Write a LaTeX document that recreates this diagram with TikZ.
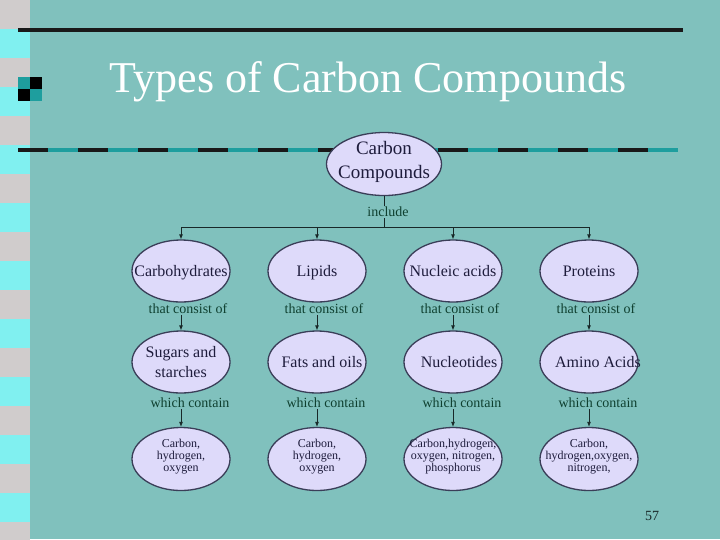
\documentclass[tikz,border=0pt]{standalone}
\usepackage{fontspec}
\setmainfont{Liberation Serif}
\usetikzlibrary{arrows.meta,shapes.geometric}

\definecolor{slidebg}{RGB}{128,193,189}
\definecolor{stripgray}{RGB}{208,204,204}
\definecolor{stripcyan}{RGB}{128,240,240}
\definecolor{darkteal}{RGB}{30,158,158}
\definecolor{ovalfill}{RGB}{222,218,250}
\definecolor{ovalline}{RGB}{58,62,88}
\definecolor{ovalink}{RGB}{30,28,60}
\definecolor{linkink}{RGB}{15,64,48}
\definecolor{wireink}{RGB}{24,40,40}

\tikzset{
  oval/.style={ellipse, draw=ovalline, line width=1.3pt, fill=ovalfill,
    inner sep=0pt, minimum width=98pt, minimum height=62pt},
  ovaltext/.style={text=ovalink, align=center, inner sep=0pt,
    font=\fontsize{16}{20}\selectfont},
  oneline/.style={ovaltext, text height=11.5pt, text depth=4.1pt, yshift=-2pt},
  smalltext/.style={ovaltext, font=\fontsize{12}{12}\selectfont},
  linklabel/.style={text=linkink, inner sep=1pt, font=\fontsize{14}{16}\selectfont},
  wire/.style={draw=wireink, line width=0.8pt},
  link/.style={wire, -{Latex[length=5pt,width=4pt]}},
}

\begin{document}
\begin{tikzpicture}[x=1pt,y=-1pt]
  \newcommand\X{136}
  \newcommand\Xo{181}
  % slide background and side strip
  \fill[slidebg] (0,0) rectangle (720,539);
  \useasboundingbox (0,0) rectangle (720,539);
  \begin{scope}
    \clip (0,0) rectangle (30,539);
    \foreach \k in {0,...,9} {
      \fill[stripgray] (0,\k*58) rectangle (30,\k*58+29);
      \fill[stripcyan] (0,\k*58+29) rectangle (30,\k*58+58);
    }
  \end{scope}
  % rules and checker
  \draw[line width=4pt, black!90] (18,30) -- (683,30);
  \fill[darkteal] (18,77) rectangle (30,89);
  \fill[black] (30,77) rectangle (42,89);
  \fill[black] (18,89) rectangle (30,101);
  \fill[darkteal] (30,89) rectangle (42,101);
  \foreach \k in {0,...,10} {
    \fill[black!90] (18+\k*60,147.5) rectangle (48+\k*60,151.5);
    \fill[darkteal] (48+\k*60,147.5) rectangle (78+\k*60,151.5);
  }
  \node[anchor=base, text=white, inner sep=0pt, font=\fontsize{44}{50}\selectfont] (title) at (368,92) {Types of Carbon Compounds};

  % root
  \node[oval, minimum width=115pt, minimum height=63pt,
    label={[ovaltext, yshift=2pt, font=\fontsize{19}{24}\selectfont]center:Carbon\\Compounds}] (root) at (384,164) {};
  \node[linklabel] (inc) at (388,212) {include};
  \coordinate (hub) at (384,227);

  % first row
  \node[oval, label={[oneline]center:Carbohydrates}] (carb) at (\Xo+0*\X,271) {};
  \node[oval, label={[oneline]center:Lipids}] (lip) at (\Xo+1*\X,271) {};
  \node[oval, label={[oneline]center:Nucleic acids}] (nuc) at (\Xo+2*\X,271) {};
  \node[oval, label={[oneline]center:Proteins}] (prot) at (\Xo+3*\X,271) {};

  \node[linklabel] (cons1) at (\Xo+0*\X+7,309) {that consist of};
  \node[linklabel] (cons2) at (\Xo+1*\X+7,309) {that consist of};
  \node[linklabel] (cons3) at (\Xo+2*\X+7,309) {that consist of};
  \node[linklabel] (cons4) at (\Xo+3*\X+7,309) {that consist of};

  % second row
  \node[oval, label={[ovaltext]center:Sugars and\\starches}] (sug) at (\Xo+0*\X,362) {};
  \node[oval, label={[oneline, xshift=5pt]center:Fats and oils}] (fat) at (\Xo+1*\X,362) {};
  \node[oval, label={[oneline, xshift=6pt]center:Nucleotides}] (ntd) at (\Xo+2*\X,362) {};
  \node[oval, label={[oneline, xshift=9pt]center:Amino Acids}] (amino) at (\Xo+3*\X,362) {};

  \node[linklabel] (cont1) at (\Xo+0*\X+9,403) {which contain};
  \node[linklabel] (cont2) at (\Xo+1*\X+9,403) {which contain};
  \node[linklabel] (cont3) at (\Xo+2*\X+9,403) {which contain};
  \node[linklabel] (cont4) at (\Xo+3*\X+9,403) {which contain};

  % third row
  \node[oval, minimum height=63pt, label={[smalltext, yshift=2pt]center:Carbon,\\hydrogen,\\oxygen}] (elem1) at (\Xo+0*\X,459) {};
  \node[oval, minimum height=63pt, label={[smalltext, yshift=2pt]center:Carbon,\\hydrogen,\\oxygen}] (elem2) at (\Xo+1*\X,459) {};
  \node[oval, minimum height=63pt, label={[smalltext, yshift=2pt]center:Carbon,hydrogen,\\oxygen, nitrogen,\\phosphorus}] (elem3) at (\Xo+2*\X,459) {};
  \node[oval, minimum height=63pt, label={[smalltext, yshift=2pt]center:Carbon,\\hydrogen,oxygen,\\nitrogen,}] (elem4) at (\Xo+3*\X,459) {};

  \node[text=wireink, inner sep=0pt, font=\fontsize{14}{16}\selectfont] (page) at (652,516) {57};

  % connectors
  \draw[wire] (root.south) -- (root.south |- inc.north);
  \draw[wire] (root.south |- inc.south) -- (hub);
  \draw[link] (hub) -| (carb.north);
  \draw[link] (hub) -| (lip.north);
  \draw[link] (hub) -| (nuc.north);
  \draw[link] (hub) -| (prot.north);

  \draw[link] (carb.south |- cons1.south) -- (sug.north);
  \draw[link] (lip.south |- cons2.south) -- (fat.north);
  \draw[link] (nuc.south |- cons3.south) -- (ntd.north);
  \draw[link] (prot.south |- cons4.south) -- (amino.north);

  \draw[link] (sug.south |- cont1.south) -- (elem1.north);
  \draw[link] (fat.south |- cont2.south) -- (elem2.north);
  \draw[link] (ntd.south |- cont3.south) -- (elem3.north);
  \draw[link] (amino.south |- cont4.south) -- (elem4.north);
\end{tikzpicture}
\end{document}
